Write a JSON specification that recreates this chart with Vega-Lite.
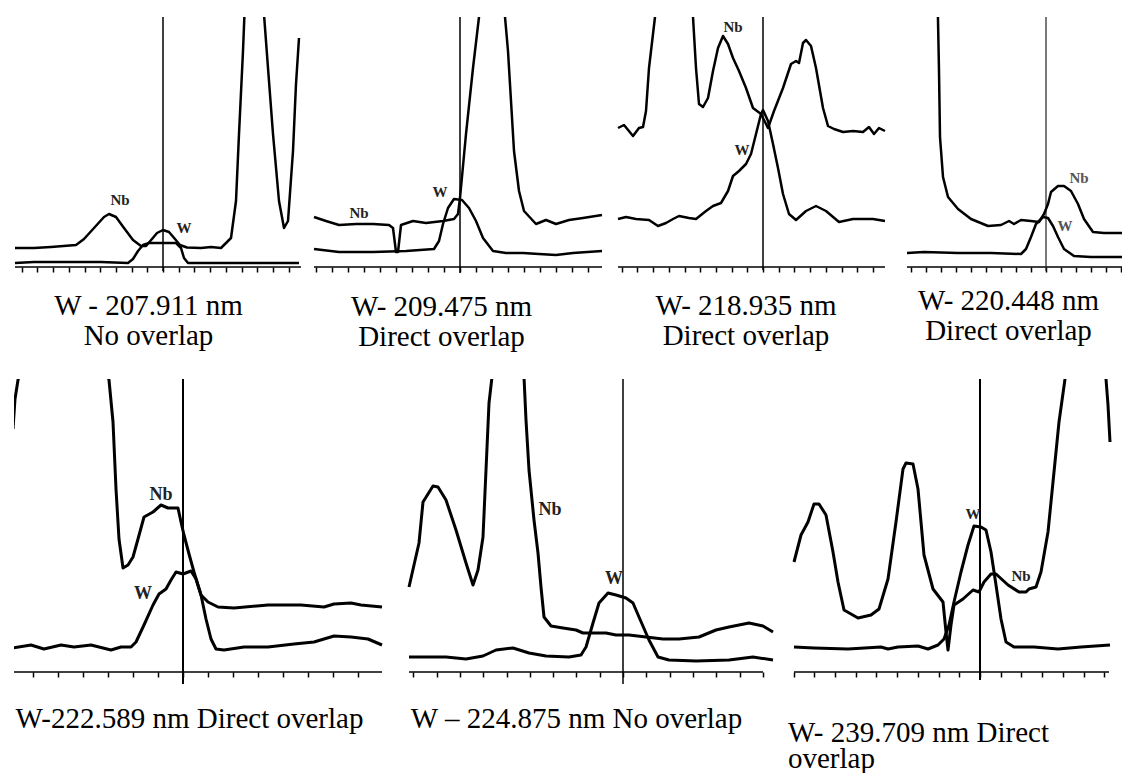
{
"$schema": "https://vega.github.io/schema/vega-lite/v6.json",
"background": "white",
"padding": {"left": 13, "top": 16, "right": 0, "bottom": 0},
"spacing": 26,
"config": {
  "view": {"stroke": null},
  "axisX": {"domain": false, "labels": false, "grid": false, "ticks": true, "tickSize": 5, "tickWidth": 1.5, "tickColor": "black"},
  "title": {"font": "Liberation Serif", "fontSize": 29, "fontWeight": "normal", "color": "black", "frame": "group", "orient": "bottom", "lineHeight": 30}
},
"datasets": {
"c1": [
{"s":"Nb","x":-148,"y":19},{"s":"Nb","x":-129,"y":19},{"s":"Nb","x":-112,"y":20},{"s":"Nb","x":-87,"y":22},{"s":"Nb","x":-79,"y":28},{"s":"Nb","x":-69,"y":39},{"s":"Nb","x":-59,"y":50},{"s":"Nb","x":-54,"y":53},{"s":"Nb","x":-47,"y":50},{"s":"Nb","x":-39,"y":39},{"s":"Nb","x":-30,"y":27},{"s":"Nb","x":-22,"y":21},{"s":"Nb","x":-17,"y":21},{"s":"Nb","x":-11,"y":28},{"s":"Nb","x":-6,"y":34},{"s":"Nb","x":0,"y":37},{"s":"Nb","x":6,"y":35},{"s":"Nb","x":12,"y":28},{"s":"Nb","x":17,"y":22},{"s":"Nb","x":24,"y":19.5},{"s":"Nb","x":38,"y":19},{"s":"Nb","x":48,"y":20},{"s":"Nb","x":58,"y":19},{"s":"Nb","x":68,"y":29},{"s":"Nb","x":73,"y":66},{"s":"Nb","x":76,"y":133},{"s":"Nb","x":80,"y":216},{"s":"Nb","x":82,"y":266},{"s":"Nb","x":91,"y":330},{"s":"Nb","x":100,"y":266},{"s":"Nb","x":105,"y":199},{"s":"Nb","x":110,"y":133},{"s":"Nb","x":116,"y":66},{"s":"Nb","x":121,"y":39},{"s":"Nb","x":125,"y":46},{"s":"Nb","x":130,"y":116},{"s":"Nb","x":133,"y":183},{"s":"Nb","x":136,"y":229},
{"s":"W","x":-148,"y":4},{"s":"W","x":-129,"y":5},{"s":"W","x":-95,"y":5},{"s":"W","x":-62,"y":5},{"s":"W","x":-35,"y":4},{"s":"W","x":-30,"y":8},{"s":"W","x":-25,"y":16},{"s":"W","x":-20,"y":22},{"s":"W","x":-14,"y":24},{"s":"W","x":0,"y":24},{"s":"W","x":13,"y":24},{"s":"W","x":18,"y":19},{"s":"W","x":21,"y":9},{"s":"W","x":25,"y":4},{"s":"W","x":55,"y":4},{"s":"W","x":88,"y":4},{"s":"W","x":136,"y":4}
],
"c2": [
{"s":"Nb","x":-146,"y":50},{"s":"Nb","x":-134,"y":46},{"s":"Nb","x":-121,"y":42},{"s":"Nb","x":-104,"y":43},{"s":"Nb","x":-87,"y":43},{"s":"Nb","x":-71,"y":42},{"s":"Nb","x":-67,"y":39},{"s":"Nb","x":-64,"y":15},{"s":"Nb","x":-62,"y":15},{"s":"Nb","x":-59,"y":42},{"s":"Nb","x":-47,"y":46},{"s":"Nb","x":-34,"y":44},{"s":"Nb","x":-17,"y":46},{"s":"Nb","x":-6,"y":48},{"s":"Nb","x":-2,"y":53},{"s":"Nb","x":0,"y":69},{"s":"Nb","x":6,"y":133},{"s":"Nb","x":13,"y":199},{"s":"Nb","x":19,"y":250},{"s":"Nb","x":31,"y":330},{"s":"Nb","x":45,"y":250},{"s":"Nb","x":48,"y":216},{"s":"Nb","x":51,"y":166},{"s":"Nb","x":54,"y":116},{"s":"Nb","x":59,"y":76},{"s":"Nb","x":64,"y":56},{"s":"Nb","x":76,"y":43},{"s":"Nb","x":86,"y":47},{"s":"Nb","x":96,"y":43},{"s":"Nb","x":109,"y":47},{"s":"Nb","x":123,"y":49},{"s":"Nb","x":142,"y":52},
{"s":"W","x":-146,"y":18},{"s":"W","x":-121,"y":15},{"s":"W","x":-87,"y":15},{"s":"W","x":-54,"y":16},{"s":"W","x":-26,"y":18},{"s":"W","x":-21,"y":26},{"s":"W","x":-17,"y":43},{"s":"W","x":-12,"y":59},{"s":"W","x":-6,"y":68},{"s":"W","x":2,"y":67},{"s":"W","x":9,"y":59},{"s":"W","x":16,"y":46},{"s":"W","x":23,"y":29},{"s":"W","x":33,"y":16},{"s":"W","x":46,"y":14},{"s":"W","x":63,"y":14},{"s":"W","x":79,"y":13},{"s":"W","x":96,"y":12},{"s":"W","x":113,"y":14},{"s":"W","x":142,"y":16}
],
"c3": [
{"s":"Nb","x":-145,"y":139},{"s":"Nb","x":-139,"y":142},{"s":"Nb","x":-130,"y":131},{"s":"Nb","x":-124,"y":139},{"s":"Nb","x":-120,"y":140},{"s":"Nb","x":-117,"y":156},{"s":"Nb","x":-114,"y":199},{"s":"Nb","x":-110,"y":233},{"s":"Nb","x":-108,"y":250},{"s":"Nb","x":-98,"y":320},{"s":"Nb","x":-70,"y":250},{"s":"Nb","x":-67,"y":199},{"s":"Nb","x":-64,"y":163},{"s":"Nb","x":-60,"y":160},{"s":"Nb","x":-55,"y":169},{"s":"Nb","x":-50,"y":196},{"s":"Nb","x":-45,"y":219},{"s":"Nb","x":-40,"y":231},{"s":"Nb","x":-35,"y":223},{"s":"Nb","x":-30,"y":209},{"s":"Nb","x":-24,"y":196},{"s":"Nb","x":-17,"y":179},{"s":"Nb","x":-10,"y":159},{"s":"Nb","x":-2,"y":153},{"s":"Nb","x":5,"y":139},{"s":"Nb","x":11,"y":156},{"s":"Nb","x":20,"y":179},{"s":"Nb","x":28,"y":203},{"s":"Nb","x":33,"y":206},{"s":"Nb","x":36,"y":204},{"s":"Nb","x":40,"y":224},{"s":"Nb","x":43,"y":227},{"s":"Nb","x":48,"y":221},{"s":"Nb","x":53,"y":199},{"s":"Nb","x":60,"y":159},{"s":"Nb","x":65,"y":141},{"s":"Nb","x":71,"y":138},{"s":"Nb","x":80,"y":135},{"s":"Nb","x":90,"y":136},{"s":"Nb","x":100,"y":135},{"s":"Nb","x":106,"y":140},{"s":"Nb","x":111,"y":133},{"s":"Nb","x":116,"y":139},{"s":"Nb","x":122,"y":136},
{"s":"W","x":-145,"y":48},{"s":"W","x":-137,"y":50},{"s":"W","x":-127,"y":48},{"s":"W","x":-114,"y":47},{"s":"W","x":-105,"y":41},{"s":"W","x":-97,"y":44},{"s":"W","x":-90,"y":48},{"s":"W","x":-84,"y":51},{"s":"W","x":-74,"y":49},{"s":"W","x":-67,"y":48},{"s":"W","x":-57,"y":56},{"s":"W","x":-50,"y":61},{"s":"W","x":-42,"y":64},{"s":"W","x":-35,"y":76},{"s":"W","x":-30,"y":91},{"s":"W","x":-24,"y":96},{"s":"W","x":-17,"y":103},{"s":"W","x":-12,"y":113},{"s":"W","x":-7,"y":133},{"s":"W","x":-2,"y":153},{"s":"W","x":0,"y":157},{"s":"W","x":5,"y":146},{"s":"W","x":10,"y":123},{"s":"W","x":15,"y":99},{"s":"W","x":20,"y":73},{"s":"W","x":26,"y":53},{"s":"W","x":33,"y":47},{"s":"W","x":43,"y":56},{"s":"W","x":53,"y":61},{"s":"W","x":63,"y":56},{"s":"W","x":76,"y":45},{"s":"W","x":90,"y":48},{"s":"W","x":110,"y":48},{"s":"W","x":122,"y":46}
],
"c4": [
{"s":"Nb","x":-109,"y":300},{"s":"Nb","x":-108,"y":247},{"s":"Nb","x":-107,"y":196},{"s":"Nb","x":-106,"y":130},{"s":"Nb","x":-103,"y":90},{"s":"Nb","x":-98,"y":70},{"s":"Nb","x":-88,"y":58},{"s":"Nb","x":-75,"y":48},{"s":"Nb","x":-58,"y":41},{"s":"Nb","x":-45,"y":42},{"s":"Nb","x":-37,"y":46},{"s":"Nb","x":-32,"y":43},{"s":"Nb","x":-25,"y":47},{"s":"Nb","x":-15,"y":46},{"s":"Nb","x":-7,"y":45},{"s":"Nb","x":-2,"y":53},{"s":"Nb","x":2,"y":63},{"s":"Nb","x":5,"y":75},{"s":"Nb","x":12,"y":81},{"s":"Nb","x":18,"y":81},{"s":"Nb","x":25,"y":76},{"s":"Nb","x":32,"y":63},{"s":"Nb","x":38,"y":48},{"s":"Nb","x":47,"y":35},{"s":"Nb","x":58,"y":34},{"s":"Nb","x":77,"y":34},
{"s":"W","x":-139,"y":14},{"s":"W","x":-122,"y":15},{"s":"W","x":-88,"y":14},{"s":"W","x":-55,"y":14},{"s":"W","x":-25,"y":13},{"s":"W","x":-20,"y":18},{"s":"W","x":-15,"y":30},{"s":"W","x":-10,"y":43},{"s":"W","x":-3,"y":50},{"s":"W","x":2,"y":49},{"s":"W","x":7,"y":41},{"s":"W","x":12,"y":30},{"s":"W","x":18,"y":18},{"s":"W","x":28,"y":11},{"s":"W","x":45,"y":10},{"s":"W","x":77,"y":10}
],
"c5": [
{"s":"Nb","x":-170,"y":243},{"s":"Nb","x":-168,"y":273},{"s":"Nb","x":-165,"y":292},{"s":"Nb","x":-150,"y":340},{"s":"Nb","x":-90,"y":340},{"s":"Nb","x":-74,"y":292},{"s":"Nb","x":-70,"y":250},{"s":"Nb","x":-67,"y":183},{"s":"Nb","x":-64,"y":133},{"s":"Nb","x":-60,"y":104},{"s":"Nb","x":-55,"y":107},{"s":"Nb","x":-50,"y":115},{"s":"Nb","x":-45,"y":133},{"s":"Nb","x":-39,"y":155},{"s":"Nb","x":-30,"y":160},{"s":"Nb","x":-22,"y":167},{"s":"Nb","x":-15,"y":164},{"s":"Nb","x":-5,"y":164},{"s":"Nb","x":-2,"y":150},{"s":"Nb","x":1,"y":137},{"s":"Nb","x":6,"y":118},{"s":"Nb","x":11,"y":100},{"s":"Nb","x":18,"y":77},{"s":"Nb","x":25,"y":70},{"s":"Nb","x":35,"y":65},{"s":"Nb","x":51,"y":64},{"s":"Nb","x":85,"y":67},{"s":"Nb","x":118,"y":67},{"s":"Nb","x":141,"y":65},{"s":"Nb","x":151,"y":68},{"s":"Nb","x":168,"y":69},{"s":"Nb","x":178,"y":67},{"s":"Nb","x":199,"y":65},
{"s":"W","x":-170,"y":24},{"s":"W","x":-152,"y":27},{"s":"W","x":-139,"y":23},{"s":"W","x":-122,"y":27},{"s":"W","x":-109,"y":25},{"s":"W","x":-92,"y":27},{"s":"W","x":-72,"y":22},{"s":"W","x":-62,"y":25},{"s":"W","x":-52,"y":25},{"s":"W","x":-47,"y":30},{"s":"W","x":-39,"y":47},{"s":"W","x":-30,"y":67},{"s":"W","x":-24,"y":78},{"s":"W","x":-17,"y":83},{"s":"W","x":-12,"y":92},{"s":"W","x":-7,"y":100},{"s":"W","x":0,"y":98},{"s":"W","x":8,"y":101},{"s":"W","x":13,"y":93},{"s":"W","x":18,"y":77},{"s":"W","x":23,"y":53},{"s":"W","x":28,"y":33},{"s":"W","x":33,"y":23},{"s":"W","x":41,"y":22},{"s":"W","x":61,"y":25},{"s":"W","x":85,"y":25},{"s":"W","x":111,"y":28},{"s":"W","x":131,"y":30},{"s":"W","x":151,"y":36},{"s":"W","x":168,"y":35},{"s":"W","x":185,"y":33},{"s":"W","x":199,"y":27}
],
"c6": [
{"s":"Nb","x":-214,"y":85},{"s":"Nb","x":-204,"y":129},{"s":"Nb","x":-200,"y":170},{"s":"Nb","x":-190,"y":186},{"s":"Nb","x":-185,"y":185},{"s":"Nb","x":-177,"y":172},{"s":"Nb","x":-167,"y":142},{"s":"Nb","x":-157,"y":109},{"s":"Nb","x":-150,"y":87},{"s":"Nb","x":-145,"y":102},{"s":"Nb","x":-140,"y":135},{"s":"Nb","x":-137,"y":202},{"s":"Nb","x":-134,"y":269},{"s":"Nb","x":-131,"y":295},{"s":"Nb","x":-124,"y":340},{"s":"Nb","x":-108,"y":340},{"s":"Nb","x":-99,"y":295},{"s":"Nb","x":-97,"y":252},{"s":"Nb","x":-94,"y":202},{"s":"Nb","x":-89,"y":152},{"s":"Nb","x":-85,"y":119},{"s":"Nb","x":-82,"y":85},{"s":"Nb","x":-79,"y":55},{"s":"Nb","x":-72,"y":46},{"s":"Nb","x":-60,"y":44},{"s":"Nb","x":-47,"y":42},{"s":"Nb","x":-40,"y":39},{"s":"Nb","x":-27,"y":39},{"s":"Nb","x":-17,"y":39},{"s":"Nb","x":-7,"y":37},{"s":"Nb","x":6,"y":37},{"s":"Nb","x":23,"y":35},{"s":"Nb","x":40,"y":33},{"s":"Nb","x":56,"y":33},{"s":"Nb","x":76,"y":35},{"s":"Nb","x":93,"y":42},{"s":"Nb","x":106,"y":45},{"s":"Nb","x":126,"y":49},{"s":"Nb","x":140,"y":46},{"s":"Nb","x":150,"y":40},
{"s":"W","x":-214,"y":15},{"s":"W","x":-194,"y":15},{"s":"W","x":-177,"y":15},{"s":"W","x":-157,"y":13},{"s":"W","x":-140,"y":16},{"s":"W","x":-127,"y":22},{"s":"W","x":-110,"y":24},{"s":"W","x":-94,"y":19},{"s":"W","x":-77,"y":16},{"s":"W","x":-54,"y":15},{"s":"W","x":-42,"y":17},{"s":"W","x":-37,"y":25},{"s":"W","x":-30,"y":49},{"s":"W","x":-24,"y":69},{"s":"W","x":-15,"y":79},{"s":"W","x":-7,"y":77},{"s":"W","x":3,"y":74},{"s":"W","x":10,"y":69},{"s":"W","x":16,"y":55},{"s":"W","x":26,"y":32},{"s":"W","x":35,"y":15},{"s":"W","x":46,"y":12},{"s":"W","x":73,"y":11},{"s":"W","x":106,"y":12},{"s":"W","x":130,"y":15},{"s":"W","x":150,"y":12}
],
"c7": [
{"s":"Nb","x":-186,"y":110},{"s":"Nb","x":-179,"y":137},{"s":"Nb","x":-172,"y":150},{"s":"Nb","x":-166,"y":168},{"s":"Nb","x":-161,"y":168},{"s":"Nb","x":-154,"y":157},{"s":"Nb","x":-147,"y":120},{"s":"Nb","x":-142,"y":90},{"s":"Nb","x":-136,"y":62},{"s":"Nb","x":-122,"y":54},{"s":"Nb","x":-109,"y":57},{"s":"Nb","x":-101,"y":63},{"s":"Nb","x":-92,"y":93},{"s":"Nb","x":-84,"y":150},{"s":"Nb","x":-77,"y":203},{"s":"Nb","x":-74,"y":209},{"s":"Nb","x":-67,"y":208},{"s":"Nb","x":-62,"y":183},{"s":"Nb","x":-56,"y":117},{"s":"Nb","x":-47,"y":83},{"s":"Nb","x":-37,"y":70},{"s":"Nb","x":-34,"y":40},{"s":"Nb","x":-32,"y":22},{"s":"Nb","x":-29,"y":47},{"s":"Nb","x":-26,"y":67},{"s":"Nb","x":-17,"y":73},{"s":"Nb","x":-7,"y":82},{"s":"Nb","x":-1,"y":80},{"s":"Nb","x":4,"y":90},{"s":"Nb","x":11,"y":98},{"s":"Nb","x":16,"y":98},{"s":"Nb","x":28,"y":87},{"s":"Nb","x":39,"y":80},{"s":"Nb","x":46,"y":80},{"s":"Nb","x":49,"y":83},{"s":"Nb","x":56,"y":85},{"s":"Nb","x":61,"y":100},{"s":"Nb","x":68,"y":140},{"s":"Nb","x":74,"y":200},{"s":"Nb","x":79,"y":250},{"s":"Nb","x":85,"y":293},{"s":"Nb","x":95,"y":340},{"s":"Nb","x":115,"y":340},{"s":"Nb","x":126,"y":293},{"s":"Nb","x":128,"y":267},{"s":"Nb","x":130,"y":230},
{"s":"W","x":-186,"y":25},{"s":"W","x":-166,"y":24},{"s":"W","x":-132,"y":23},{"s":"W","x":-99,"y":25},{"s":"W","x":-92,"y":23},{"s":"W","x":-82,"y":25},{"s":"W","x":-62,"y":26},{"s":"W","x":-52,"y":23},{"s":"W","x":-42,"y":27},{"s":"W","x":-36,"y":33},{"s":"W","x":-31,"y":47},{"s":"W","x":-26,"y":70},{"s":"W","x":-19,"y":100},{"s":"W","x":-12,"y":127},{"s":"W","x":-6,"y":146},{"s":"W","x":1,"y":145},{"s":"W","x":6,"y":142},{"s":"W","x":11,"y":120},{"s":"W","x":16,"y":87},{"s":"W","x":21,"y":53},{"s":"W","x":26,"y":30},{"s":"W","x":34,"y":25},{"s":"W","x":54,"y":25},{"s":"W","x":78,"y":23},{"s":"W","x":101,"y":25},{"s":"W","x":130,"y":27}
]
},
"vconcat": [
{
"hconcat": [
{
 "width": 293, "height": 250,
 "title": {"text": ["W - 207.911 nm", "No overlap"], "dx": -12, "offset": 19},
 "encoding": {
  "x": {"field": "x", "type": "quantitative", "scale": {"domain": [-149, 144], "nice": false, "zero": false}, "axis": {"values": [-141.3,-125.6,-109.9,-94.2,-78.5,-62.8,-47.1,-31.4,-15.7,0,15.7,31.4,47.1,62.8,78.5,94.2,109.9,125.6], "title": null}},
  "y": {"field": "y", "type": "quantitative", "scale": {"domain": [0, 250], "nice": false, "zero": false}, "axis": null}
 },
 "layer": [
  {"data": {"values": [{"x": -148, "x2": 138, "y": 0}]}, "mark": {"type": "rule", "strokeWidth": 1.5, "color": "black"}, "encoding": {"x2": {"field": "x2"}}},
  {"data": {"values": [{"x": 0, "y": -4, "y2": 250}]}, "mark": {"type": "rule", "strokeWidth": 1.5, "color": "black"}, "encoding": {"y2": {"field": "y2"}}},
  {"data": {"name": "c1"}, "mark": {"type": "line", "clip": true, "strokeWidth": 2.5, "color": "black", "strokeJoin": "round"}, "encoding": {"detail": {"field": "s"}}},
  {"data": {"values": [{"x": -43, "y": 67, "t": "Nb"}, {"x": 21, "y": 39, "t": "W"}]}, "mark": {"type": "text", "font": "Liberation Serif", "fontWeight": "bold", "fontSize": 15, "color": "#222"}, "encoding": {"text": {"field": "t"}}}
 ]
},
{
 "width": 303, "height": 250,
 "title": {"text": ["W- 209.475 nm", "Direct overlap"], "dx": -17, "offset": 19},
 "encoding": {
  "x": {"field": "x", "type": "quantitative", "scale": {"domain": [-153, 150], "nice": false, "zero": false}, "axis": {"values": [-144,-128,-112,-96,-80,-64,-48,-32,-16,0,16,32,48,64,80,96,112,128], "title": null}},
  "y": {"field": "y", "type": "quantitative", "scale": {"domain": [0, 250], "nice": false, "zero": false}, "axis": null}
 },
 "layer": [
  {"data": {"values": [{"x": -146, "x2": 142, "y": 0}]}, "mark": {"type": "rule", "strokeWidth": 1.5, "color": "black"}, "encoding": {"x2": {"field": "x2"}}},
  {"data": {"values": [{"x": 0, "y": -6, "y2": 250}]}, "mark": {"type": "rule", "strokeWidth": 1.5, "color": "black"}, "encoding": {"y2": {"field": "y2"}}},
  {"data": {"name": "c2"}, "mark": {"type": "line", "clip": true, "strokeWidth": 2.5, "color": "black", "strokeJoin": "round"}, "encoding": {"detail": {"field": "s"}}},
  {"data": {"values": [{"x": -101, "y": 54, "t": "Nb"}, {"x": -20, "y": 75, "t": "W"}]}, "mark": {"type": "text", "font": "Liberation Serif", "fontWeight": "bold", "fontSize": 15, "color": "#222"}, "encoding": {"text": {"field": "t"}}}
 ]
},
{
 "width": 286, "height": 250,
 "title": {"text": ["W- 218.935 nm", "Direct overlap"], "dx": -7, "offset": 19},
 "encoding": {
  "x": {"field": "x", "type": "quantitative", "scale": {"domain": [-153, 133], "nice": false, "zero": false}, "axis": {"values": [-141.3,-125.6,-109.9,-94.2,-78.5,-62.8,-47.1,-31.4,-15.7,0,15.7,31.4,47.1,62.8,78.5,94.2,109.9], "title": null}},
  "y": {"field": "y", "type": "quantitative", "scale": {"domain": [0, 250], "nice": false, "zero": false}, "axis": null}
 },
 "layer": [
  {"data": {"values": [{"x": -145, "x2": 122, "y": 0}]}, "mark": {"type": "rule", "strokeWidth": 1.5, "color": "black"}, "encoding": {"x2": {"field": "x2"}}},
  {"data": {"values": [{"x": 0, "y": -3, "y2": 250}]}, "mark": {"type": "rule", "strokeWidth": 1.5, "color": "black"}, "encoding": {"y2": {"field": "y2"}}},
  {"data": {"name": "c3"}, "mark": {"type": "line", "clip": true, "strokeWidth": 2.5, "color": "black", "strokeJoin": "round"}, "encoding": {"detail": {"field": "s"}}},
  {"data": {"values": [{"x": -30, "y": 240, "t": "Nb"}, {"x": -21, "y": 117, "t": "W"}]}, "mark": {"type": "text", "font": "Liberation Serif", "fontWeight": "bold", "fontSize": 15, "color": "#222"}, "encoding": {"text": {"field": "t"}}}
 ]
},
{
 "width": 227, "height": 250,
 "title": {"text": ["W- 220.448 nm", "Direct overlap"], "dx": -1, "offset": 14},
 "encoding": {
  "x": {"field": "x", "type": "quantitative", "scale": {"domain": [-150, 77], "nice": false, "zero": false}, "axis": {"values": [-135,-120,-105,-90,-75,-60,-45,-30,-15,0,15,30,45,60,75], "title": null}},
  "y": {"field": "y", "type": "quantitative", "scale": {"domain": [0, 250], "nice": false, "zero": false}, "axis": null}
 },
 "layer": [
  {"data": {"values": [{"x": -139, "x2": 77, "y": 0}]}, "mark": {"type": "rule", "strokeWidth": 1.5, "color": "black"}, "encoding": {"x2": {"field": "x2"}}},
  {"data": {"values": [{"x": 0, "y": -4, "y2": 250}]}, "mark": {"type": "rule", "strokeWidth": 1.2, "color": "#222"}, "encoding": {"y2": {"field": "y2"}}},
  {"data": {"name": "c4"}, "mark": {"type": "line", "clip": true, "strokeWidth": 2.5, "color": "black", "strokeJoin": "round"}, "encoding": {"detail": {"field": "s"}}},
  {"data": {"values": [{"x": 33, "y": 89, "t": "Nb"}, {"x": 19, "y": 41, "t": "W"}]}, "mark": {"type": "text", "font": "Liberation Serif", "fontWeight": "bold", "fontSize": 15, "color": "#555"}, "encoding": {"text": {"field": "t"}}}
 ]
}
],
"spacing": 0,
"bounds": "flush"
},
{
"hconcat": [
{
 "width": 381, "height": 293,
 "title": {"text": "W-222.589 nm Direct overlap", "dx": -15, "offset": 20},
 "encoding": {
  "x": {"field": "x", "type": "quantitative", "scale": {"domain": [-169, 212], "nice": false, "zero": false}, "axis": {"values": [-150,-125,-100,-75,-50,-25,0,25,50,75,100,125,150,175], "title": null}},
  "y": {"field": "y", "type": "quantitative", "scale": {"domain": [0, 293], "nice": false, "zero": false}, "axis": null}
 },
 "layer": [
  {"data": {"values": [{"x": -169, "x2": 199, "y": 0}]}, "mark": {"type": "rule", "strokeWidth": 1.5, "color": "black"}, "encoding": {"x2": {"field": "x2"}}},
  {"data": {"values": [{"x": 0, "y": -12, "y2": 293}]}, "mark": {"type": "rule", "strokeWidth": 2, "color": "black"}, "encoding": {"y2": {"field": "y2"}}},
  {"data": {"name": "c5"}, "mark": {"type": "line", "clip": true, "strokeWidth": 3, "color": "black", "strokeJoin": "round"}, "encoding": {"detail": {"field": "s"}}},
  {"data": {"values": [{"x": -22, "y": 177, "t": "Nb"}, {"x": -40, "y": 78, "t": "W"}]}, "mark": {"type": "text", "font": "Liberation Serif", "fontWeight": "bold", "fontSize": 18, "color": "#222"}, "encoding": {"text": {"field": "t"}}}
 ]
},
{
 "width": 387, "height": 293,
 "title": {"text": "W – 224.875 nm No overlap", "dx": -12, "offset": 20},
 "encoding": {
  "x": {"field": "x", "type": "quantitative", "scale": {"domain": [-228, 159], "nice": false, "zero": false}, "axis": {"values": [-209.7,-186.4,-163.1,-139.8,-116.5,-93.2,-69.9,-46.6,-23.3,0,23.3,46.6,69.9,93.2,116.5,139.8], "title": null}},
  "y": {"field": "y", "type": "quantitative", "scale": {"domain": [0, 293], "nice": false, "zero": false}, "axis": null}
 },
 "layer": [
  {"data": {"values": [{"x": -214, "x2": 140, "y": 0}]}, "mark": {"type": "rule", "strokeWidth": 1.5, "color": "black"}, "encoding": {"x2": {"field": "x2"}}},
  {"data": {"values": [{"x": 0, "y": -12, "y2": 293}]}, "mark": {"type": "rule", "strokeWidth": 1.5, "color": "black"}, "encoding": {"y2": {"field": "y2"}}},
  {"data": {"name": "c6"}, "mark": {"type": "line", "clip": true, "strokeWidth": 3, "color": "black", "strokeJoin": "round"}, "encoding": {"detail": {"field": "s"}}},
  {"data": {"values": [{"x": -73, "y": 162, "t": "Nb"}, {"x": -9, "y": 93, "t": "W"}]}, "mark": {"type": "text", "font": "Liberation Serif", "fontWeight": "bold", "fontSize": 18, "color": "#222"}, "encoding": {"text": {"field": "t"}}}
 ]
},
{
 "width": 341, "height": 293,
 "title": {"text": ["W- 239.709 nm Direct", "overlap"], "anchor": "start", "dx": 6, "offset": 38, "lineHeight": 26},
 "encoding": {
  "x": {"field": "x", "type": "quantitative", "scale": {"domain": [-198, 143], "nice": false, "zero": false}, "axis": {"values": [-186.3,-165.6,-144.9,-124.2,-103.5,-82.8,-62.1,-41.4,-20.7,0,20.7,41.4,62.1,82.8,103.5,124.2], "title": null}},
  "y": {"field": "y", "type": "quantitative", "scale": {"domain": [0, 293], "nice": false, "zero": false}, "axis": null}
 },
 "layer": [
  {"data": {"values": [{"x": -186, "x2": 129, "y": 0}]}, "mark": {"type": "rule", "strokeWidth": 1.5, "color": "black"}, "encoding": {"x2": {"field": "x2"}}},
  {"data": {"values": [{"x": 0, "y": -8, "y2": 293}]}, "mark": {"type": "rule", "strokeWidth": 2, "color": "black"}, "encoding": {"y2": {"field": "y2"}}},
  {"data": {"name": "c7"}, "mark": {"type": "line", "clip": true, "strokeWidth": 3, "color": "black", "strokeJoin": "round"}, "encoding": {"detail": {"field": "s"}}},
  {"data": {"values": [{"x": -7, "y": 158, "t": "W"}, {"x": 41, "y": 96, "t": "Nb"}]}, "mark": {"type": "text", "font": "Liberation Serif", "fontWeight": "bold", "fontSize": 15, "color": "#222"}, "encoding": {"text": {"field": "t"}}}
 ]
}
],
"spacing": 0,
"bounds": "flush"
}
]
}
